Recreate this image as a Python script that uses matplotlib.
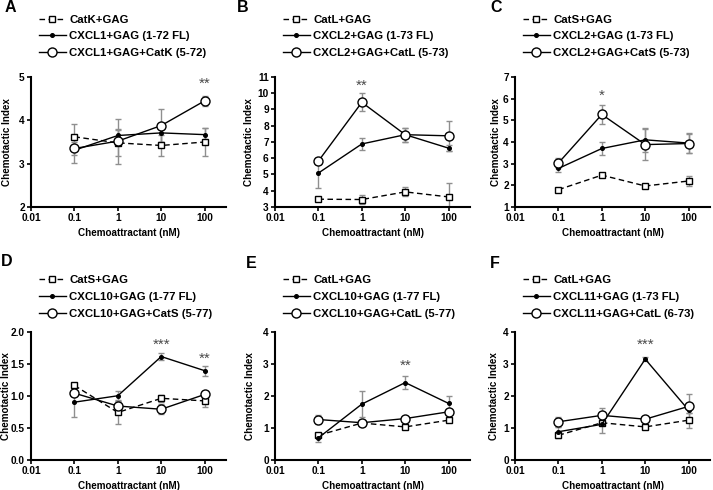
import matplotlib
matplotlib.use("Agg")
import matplotlib.pyplot as plt

plt.rcParams["font.family"] = ["Liberation Sans", "DejaVu Sans"]
plt.rcParams["font.weight"] = "bold"
plt.rcParams["axes.labelweight"] = "bold"

conc = [0.1, 1, 10, 100]
xticks = [0.01, 0.1, 1, 10, 100]
xticklabels = ["0.01", "0.1", "1", "10", "100"]

# panel A
a_labels = ["CatK+GAG", "CXCL1+GAG (1-72 FL)", "CXCL1+GAG+CatK (5-72)"]
a_sq = [3.62, 3.48, 3.42, 3.50]; a_sq_err = [0.30, 0.30, 0.24, 0.33]
a_fl = [3.31, 3.65, 3.71, 3.67]; a_fl_err = [0.30, 0.15, 0.20, 0.16]
a_ci = [3.35, 3.52, 3.88, 4.45]; a_ci_err = [0.15, 0.52, 0.37, 0.12]
a_yticks = [2, 3, 4, 5]
a_stars = [(100, 4.85, "**")]

# panel B
b_labels = ["CatL+GAG", "CXCL2+GAG (1-73 FL)", "CXCL2+GAG+CatL (5-73)"]
b_sq = [3.48, 3.46, 3.93, 3.62]; b_sq_err = [0.05, 0.30, 0.28, 0.85]
b_fl = [5.09, 6.88, 7.45, 6.62]; b_fl_err = [0.93, 0.35, 0.42, 0.18]
b_ci = [5.83, 9.44, 7.45, 7.38]; b_ci_err = [0.20, 0.55, 0.44, 0.92]
b_yticks = [3, 4, 5, 6, 7, 8, 9, 10, 11]
b_stars = [(1, 10.45, "**")]

# panel C
c_labels = ["CatS+GAG", "CXCL2+GAG (1-73 FL)", "CXCL2+GAG+CatS (5-73)"]
c_sq = [1.80, 2.47, 1.97, 2.20]; c_sq_err = [0.05, 0.05, 0.05, 0.24]
c_fl = [2.78, 3.70, 4.10, 3.95]; c_fl_err = [0.15, 0.30, 0.55, 0.45]
c_ci = [3.03, 5.27, 3.88, 3.93]; c_ci_err = [0.25, 0.43, 0.73, 0.45]
c_yticks = [1, 2, 3, 4, 5, 6, 7]
c_stars = [(1, 6.15, "*")]

# panel D
d_labels = ["CatS+GAG", "CXCL10+GAG (1-77 FL)", "CXCL10+GAG+CatS (5-77)"]
d_sq = [1.16, 0.74, 0.96, 0.92]; d_sq_err = [0.03, 0.18, 0.05, 0.10]
d_fl = [0.90, 1.00, 1.61, 1.39]; d_fl_err = [0.23, 0.08, 0.05, 0.08]
d_ci = [1.04, 0.84, 0.79, 1.02]; d_ci_err = [0.05, 0.10, 0.08, 0.05]
d_yticks = [0.0, 0.5, 1.0, 1.5, 2.0]
d_stars = [(10, 1.80, "***"), (100, 1.58, "**")]

# panel E
e_labels = ["CatL+GAG", "CXCL10+GAG (1-77 FL)", "CXCL10+GAG+CatL (5-77)"]
e_sq = [0.77, 1.15, 1.03, 1.24]; e_sq_err = [0.05, 0.04, 0.03, 0.05]
e_fl = [0.69, 1.74, 2.41, 1.76]; e_fl_err = [0.13, 0.40, 0.20, 0.23]
e_ci = [1.26, 1.16, 1.29, 1.50]; e_ci_err = [0.15, 0.04, 0.04, 0.05]
e_yticks = [0, 1, 2, 3, 4]
e_stars = [(10, 2.92, "**")]

# panel F
f_labels = ["CatL+GAG", "CXCL11+GAG (1-73 FL)", "CXCL11+GAG+CatL (6-73)"]
f_sq = [0.77, 1.16, 1.03, 1.24]; f_sq_err = [0.08, 0.05, 0.03, 0.23]
f_fl = [0.88, 1.11, 3.14, 1.55]; f_fl_err = [0.15, 0.27, 0.06, 0.10]
f_ci = [1.19, 1.39, 1.27, 1.67]; f_ci_err = [0.15, 0.22, 0.04, 0.38]
f_yticks = [0, 1, 2, 3, 4]
f_stars = [(10, 3.58, "***")]

panels = [
    ("A", a_labels, a_sq, a_sq_err, a_fl, a_fl_err, a_ci, a_ci_err, a_yticks, a_stars, "%d"),
    ("B", b_labels, b_sq, b_sq_err, b_fl, b_fl_err, b_ci, b_ci_err, b_yticks, b_stars, "%d"),
    ("C", c_labels, c_sq, c_sq_err, c_fl, c_fl_err, c_ci, c_ci_err, c_yticks, c_stars, "%d"),
    ("D", d_labels, d_sq, d_sq_err, d_fl, d_fl_err, d_ci, d_ci_err, d_yticks, d_stars, "%.1f"),
    ("E", e_labels, e_sq, e_sq_err, e_fl, e_fl_err, e_ci, e_ci_err, e_yticks, e_stars, "%d"),
    ("F", f_labels, f_sq, f_sq_err, f_fl, f_fl_err, f_ci, f_ci_err, f_yticks, f_stars, "%d"),
]

W, H = 713, 490
fig = plt.figure(figsize=(W / 100, H / 100), dpi=100)
lefts = [31, 275, 515]
ax_w = 195
rows = [(77, 130, 0.148), (331.5, 128.5, 0.10)]
letter_pos = [(10, 7), (243, 7), (496, 7), (7, 262), (251, 263), (495, 263)]
ylabel_off = [-24, -26, -19, -25, -25, -21]

for i, (letter, labels, sq, sqe, fl, fle, ci, cie, yt, stars, fmt) in enumerate(panels):
    top, h, leg_y = rows[i // 3]
    left = lefts[i % 3]
    ax = fig.add_axes([left / W, (H - top - h) / H, ax_w / W, h / H])
    ebkw = dict(fmt="none", ecolor="#8f8f8f", elinewidth=1.0, capsize=2.5, capthick=1.0, zorder=1)
    ax.errorbar(conc, sq, yerr=sqe, **ebkw)
    ax.errorbar(conc, fl, yerr=fle, **ebkw)
    ax.errorbar(conc, ci, yerr=cie, **ebkw)
    h1, = ax.plot(conc, sq, color="black", lw=1.0, ls=(0, (4, 2.5)), marker="s", ms=4.5,
                  mfc="white", mec="black", mew=1.0, zorder=3)
    h2, = ax.plot(conc, fl, color="black", lw=1.0, marker="o", ms=2.6, mfc="black", mec="black", zorder=4)
    h3, = ax.plot(conc, ci, color="black", lw=1.0, marker="o", ms=6.5, mfc="white", mec="black",
                  mew=1.0, zorder=5)
    for sx, sy, st in stars:
        ax.text(sx, sy, st, ha="center", va="center", fontsize=11, color="#4a4a4a", fontweight="normal")
    ax.set_xscale("log")
    ax.set_xlim(0.01, 310)
    ax.set_xticks(xticks)
    ax.set_xticklabels(xticklabels)
    ax.minorticks_off()
    ax.set_ylim(yt[0], yt[-1])
    ax.set_yticks(yt)
    ax.set_yticklabels([fmt % v for v in yt])
    for s in ["top", "right"]:
        ax.spines[s].set_visible(False)
    for s in ["left", "bottom"]:
        ax.spines[s].set_linewidth(1.5)
    ax.tick_params(direction="out", length=3, width=1.2, labelsize=7.3, pad=1.5)
    for lab in ax.get_xticklabels() + ax.get_yticklabels():
        lab.set_fontweight("bold")
    ax.set_xlabel("Chemoattractant (nM)", fontsize=7.1, labelpad=3.5)
    ax.set_ylabel("Chemotactic Index", fontsize=7.1, va="center")
    ax.yaxis.set_label_coords(ylabel_off[i] / ax_w, 0.5)
    ax.legend([h1, h2, h3], labels, loc="lower left", bbox_to_anchor=(0.041, 1 + leg_y),
              frameon=False, handlelength=2.37, handletextpad=0.28,
              labelspacing=0.58, borderpad=0, borderaxespad=0, numpoints=1,
              prop=dict(weight="bold", size=8.2))
    fig.text(letter_pos[i][0] / W, 1 - letter_pos[i][1] / H, letter, fontsize=11.5,
             fontweight="bold", ha="center", va="center")

fig.savefig("out.png", dpi=100)
